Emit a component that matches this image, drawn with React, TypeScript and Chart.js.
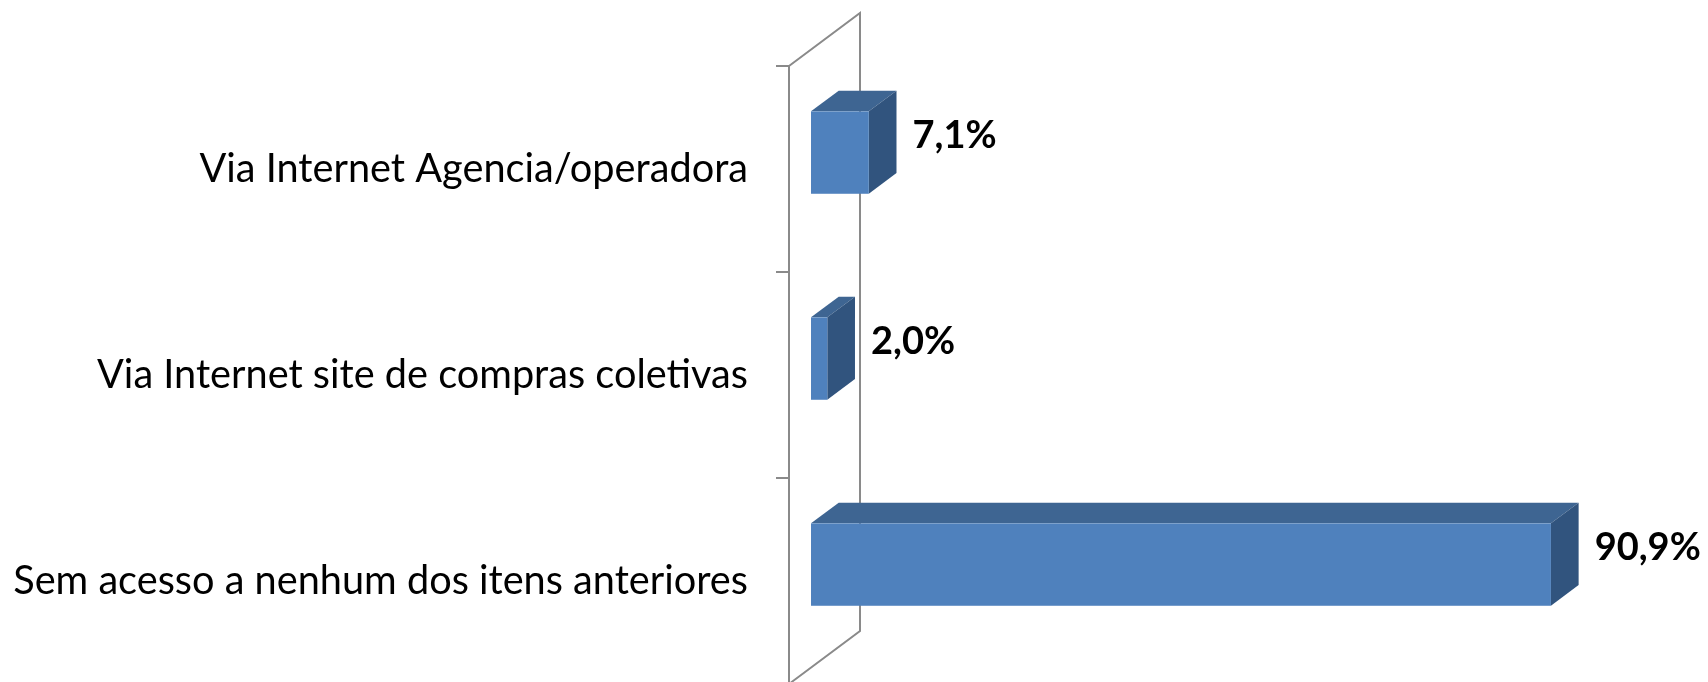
import React, { useEffect, useRef } from "react";
import { Chart, registerables } from "chart.js";

Chart.register(...registerables);

const categories = [
  "Via Internet Agencia/operadora",
  "Via Internet site de compras coletivas",
  "Sem acesso a nenhum dos itens anteriores",
];
const values = [7.1, 2.0, 90.9];
const valueLabels = ["7,1%", "2,0%", "90,9%"];

const WALL_DX = 71;
const WALL_DY = -53;
const F1 = 0.31;
const F2 = 0.7;
const FRONT = "#4F81BD";
const TOP = "#3E6592";
const SIDE = "#31547E";
const WALL = "#8A8A8A";

const threeD = {
  id: "threeD",
  beforeDatasetsDraw(chart: any) {
    const { ctx, chartArea } = chart;
    const l = chartArea.left;
    const t = chartArea.top;
    const b = chartArea.bottom;
    ctx.save();
    ctx.strokeStyle = WALL;
    ctx.lineWidth = 2;
    ctx.beginPath();
    ctx.moveTo(l, t);
    ctx.lineTo(l + WALL_DX, t + WALL_DY);
    ctx.lineTo(l + WALL_DX, b + WALL_DY);
    ctx.lineTo(l, b);
    ctx.stroke();
    ctx.restore();
  },
  afterDatasetsDraw(chart: any) {
    const { ctx } = chart;
    const meta = chart.getDatasetMeta(0);
    const d1x = WALL_DX * F1;
    const d1y = WALL_DY * F1;
    const d2x = WALL_DX * F2;
    const d2y = WALL_DY * F2;
    ctx.save();
    meta.data.forEach((bar: any, i: number) => {
      const p = bar.getProps(["x", "y", "base", "height"], true);
      const x0 = p.base + d1x;
      const x1 = p.x + d1x;
      const y0 = p.y - p.height / 2 + d1y;
      const y1 = p.y + p.height / 2 + d1y;
      const ex = d2x - d1x;
      const ey = d2y - d1y;
      ctx.fillStyle = TOP;
      ctx.beginPath();
      ctx.moveTo(x0, y0);
      ctx.lineTo(x0 + ex, y0 + ey);
      ctx.lineTo(x1 + ex, y0 + ey);
      ctx.lineTo(x1, y0);
      ctx.closePath();
      ctx.fill();
      ctx.fillStyle = SIDE;
      ctx.beginPath();
      ctx.moveTo(x1, y0);
      ctx.lineTo(x1 + ex, y0 + ey);
      ctx.lineTo(x1 + ex, y1 + ey);
      ctx.lineTo(x1, y1);
      ctx.closePath();
      ctx.fill();
      ctx.fillStyle = FRONT;
      ctx.fillRect(x0, y0, x1 - x0, y1 - y0);
      ctx.fillStyle = "#000000";
      ctx.font = "bold 38px Lato";
      ctx.textAlign = "left";
      ctx.textBaseline = "middle";
      ctx.fillText(valueLabels[i], p.x + d2x + 16, p.y + d1y - 17);
    });
    ctx.restore();
  },
};

export default function App() {
  const ref = useRef<HTMLCanvasElement>(null);
  useEffect(() => {
    if (!ref.current) return;
    const chart = new Chart(ref.current, {
      type: "bar",
      data: {
        labels: categories,
        datasets: [
          {
            data: values,
            backgroundColor: "rgba(0,0,0,0)",
            borderWidth: 0,
            barPercentage: 0.4,
            categoryPercentage: 1,
          },
        ],
      },
      options: {
        indexAxis: "y",
        animation: false,
        responsive: false,
        maintainAspectRatio: false,
        layout: { padding: { top: 66, bottom: 52, left: 0, right: 105 } },
        plugins: {
          legend: { display: false },
          tooltip: { enabled: false },
        },
        scales: {
          x: { display: false, min: 0, max: 100 },
          y: {
            afterFit: (scale: any) => {
              scale.width = 789;
            },
            grid: {
              drawOnChartArea: false,
              drawTicks: true,
              tickLength: 13,
              color: WALL,
              lineWidth: 2,
            },
            border: { display: true, color: WALL, width: 2 },
            ticks: {
              padding: 28,
              color: "#000000",
              font: { family: "Lato", size: 39.7, lineHeight: 1.2 },
            },
          },
        },
      },
      plugins: [threeD],
    });
    return () => chart.destroy();
  }, []);
  return (
    <div
      style={{
        position: "fixed",
        left: 0,
        top: 0,
        width: 1708,
        height: 682,
        overflow: "hidden",
        background: "#ffffff",
      }}
    >
      <canvas ref={ref} width={1708} height={736} style={{ display: "block" }} />
    </div>
  );
}
